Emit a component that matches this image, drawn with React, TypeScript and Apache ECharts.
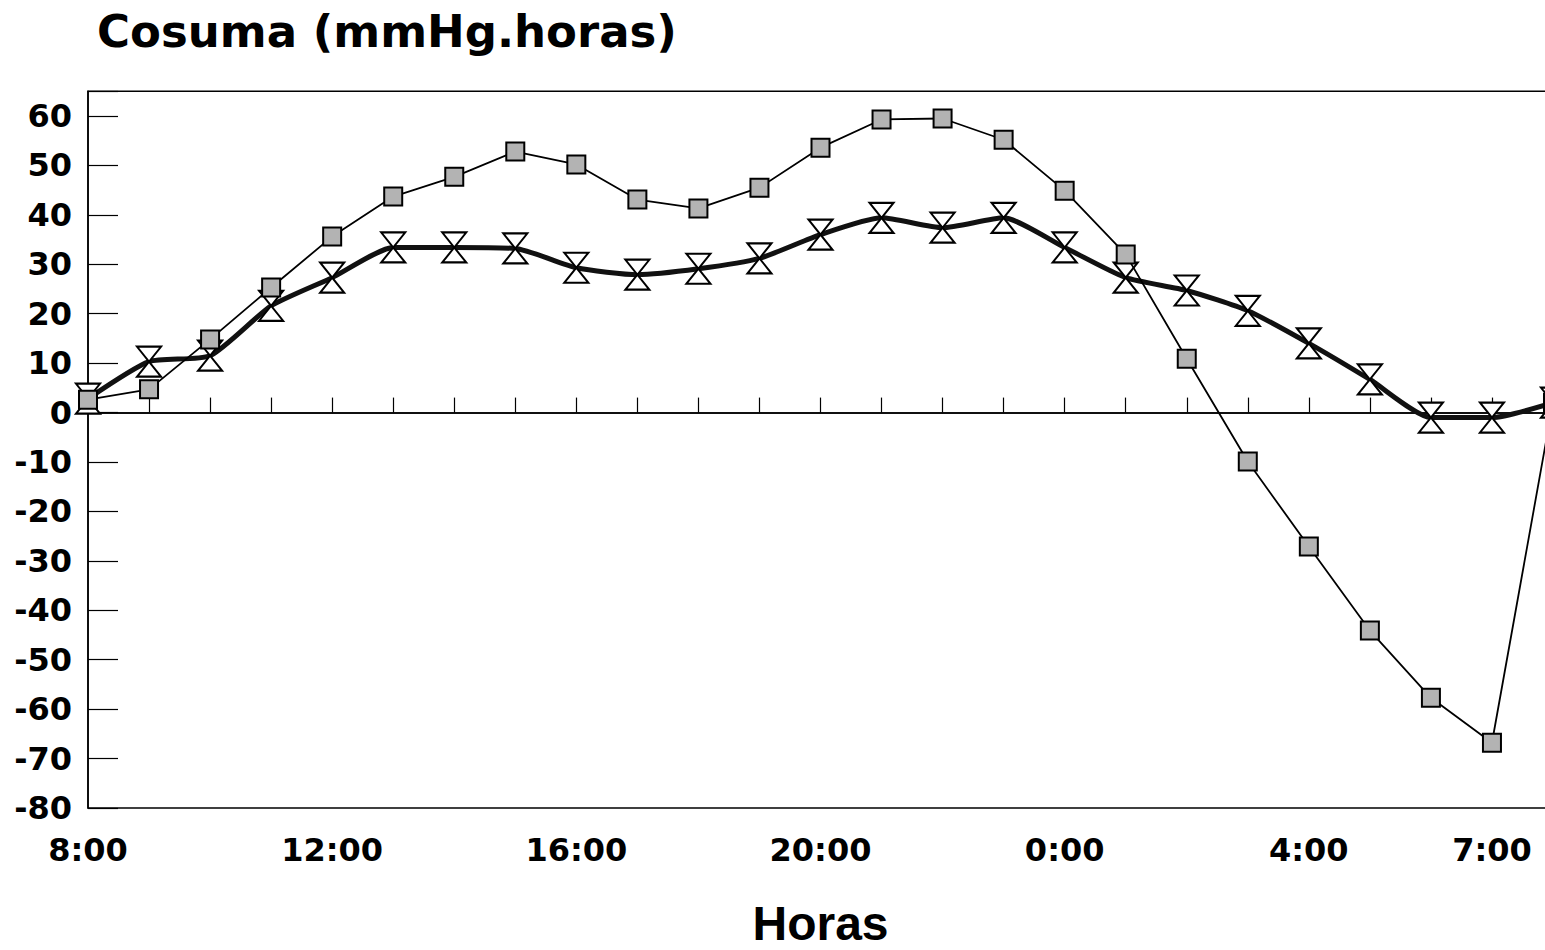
import React, { useEffect, useRef } from "react";
import * as echarts from "echarts";

const HOURS = [
  "8:00", "9:00", "10:00", "11:00", "12:00", "13:00", "14:00", "15:00",
  "16:00", "17:00", "18:00", "19:00", "20:00", "21:00", "22:00", "23:00",
  "0:00", "1:00", "2:00", "3:00", "4:00", "5:00", "6:00", "7:00", "8:00",
];
const LABELED_INDEX = [0, 4, 8, 12, 16, 20, 23];

const SQUARE_SERIES = [
  2.6, 4.7, 14.8, 25.3, 35.6, 43.7, 47.7, 52.8, 50.2, 43.1, 41.3, 45.5,
  53.6, 59.3, 59.5, 55.2, 44.9, 32.0, 10.9, -9.9, -27.1, -44.1, -57.7, -66.8, 2.0,
];
const HOURGLASS_SERIES = [
  2.8, 10.3, 11.5, 21.6, 27.3, 33.4, 33.4, 33.2, 29.3, 27.9, 29.1, 31.2,
  36.0, 39.4, 37.4, 39.4, 33.4, 27.3, 24.7, 20.6, 14.0, 6.7, -1.0, -1.0, 2.0,
];

const Y_MIN = -80;
const Y_MAX = 65;
const Y_STEP = 10;

const TITLE = "Cosuma (mmHg.horas)";
const X_NAME = "Horas";

const HOURGLASS = "path://M0,0L24,0L0,30L24,30Z";

export default function App() {
  const ref = useRef<HTMLDivElement>(null);
  useEffect(() => {
    if (!ref.current) return;
    const chart = echarts.init(ref.current, undefined, { renderer: "svg" });
    const bold = {
      fontFamily: "DejaVu Sans",
      fontWeight: "bold" as const,
      color: "#000",
    };
    chart.setOption({
      animation: false,
      backgroundColor: "#fff",
      title: {
        text: TITLE,
        left: 92,
        top: 4,
        textStyle: { ...bold, fontSize: 45 },
      },
      grid: {
        left: 88,
        right: 0,
        top: 91.3,
        bottom: 142,
        outerBoundsMode: "none",
        containLabel: false,
        show: true,
        borderColor: "#000",
        borderWidth: 1.5,
        backgroundColor: "transparent",
      },
      xAxis: {
        type: "category",
        data: HOURS,
        boundaryGap: false,
        name: X_NAME,
        nameLocation: "middle",
        nameGap: 94,
        nameTextStyle: {
          fontFamily: "Liberation Sans",
          fontWeight: "bold",
          fontSize: 48,
          lineHeight: 42,
          color: "#000",
        },
        axisLine: { show: true, lineStyle: { color: "#000", width: 1.5 } },
        axisTick: {
          show: true,
          inside: true,
          length: 15,
          interval: 0,
          lineStyle: { color: "#000", width: 1.2 },
        },
        axisLabel: {
          ...bold,
          fontSize: 32,
          lineHeight: 32,
          margin: 26,
          interval: (index: number) => LABELED_INDEX.includes(index),
        },
        splitLine: { show: false },
      },
      yAxis: {
        type: "value",
        min: Y_MIN,
        max: Y_MAX,
        interval: Y_STEP,
        axisLine: { show: true, lineStyle: { color: "#000", width: 1.5 } },
        axisTick: {
          show: true,
          inside: true,
          length: 30,
          lineStyle: { color: "#000", width: 1.2 },
        },
        axisLabel: {
          ...bold,
          fontSize: 32,
          margin: 16,
          formatter: (v: number) => (v > 60 ? "" : String(v)),
        },
        splitLine: { show: false },
      },
      series: [
        {
          type: "line",
          data: HOURGLASS_SERIES,
          smooth: 0.2,
          symbol: HOURGLASS,
          symbolSize: [24, 30],
          lineStyle: { color: "#111", width: 5 },
          itemStyle: { color: "#fff", borderColor: "#000", borderWidth: 2 },
          z: 3,
          markLine: {
            silent: true,
            symbol: "none",
            label: { show: false },
            lineStyle: { color: "#000", width: 1.5, type: "solid" },
            data: [{ yAxis: 0 }],
            z: 1,
          },
        },
        {
          type: "line",
          data: SQUARE_SERIES,
          symbol: "rect",
          symbolSize: 18,
          lineStyle: { color: "#000", width: 1.8 },
          itemStyle: { color: "#b3b3b3", borderColor: "#000", borderWidth: 2 },
          z: 4,
        },
      ],
    });
    return () => chart.dispose();
  }, []);
  return (
    <div
      style={{
        position: "absolute",
        left: 0,
        top: 0,
        width: 1545,
        height: 950,
        overflow: "hidden",
      }}
    >
      <div ref={ref} style={{ width: 1553, height: 950 }} />
    </div>
  );
}
